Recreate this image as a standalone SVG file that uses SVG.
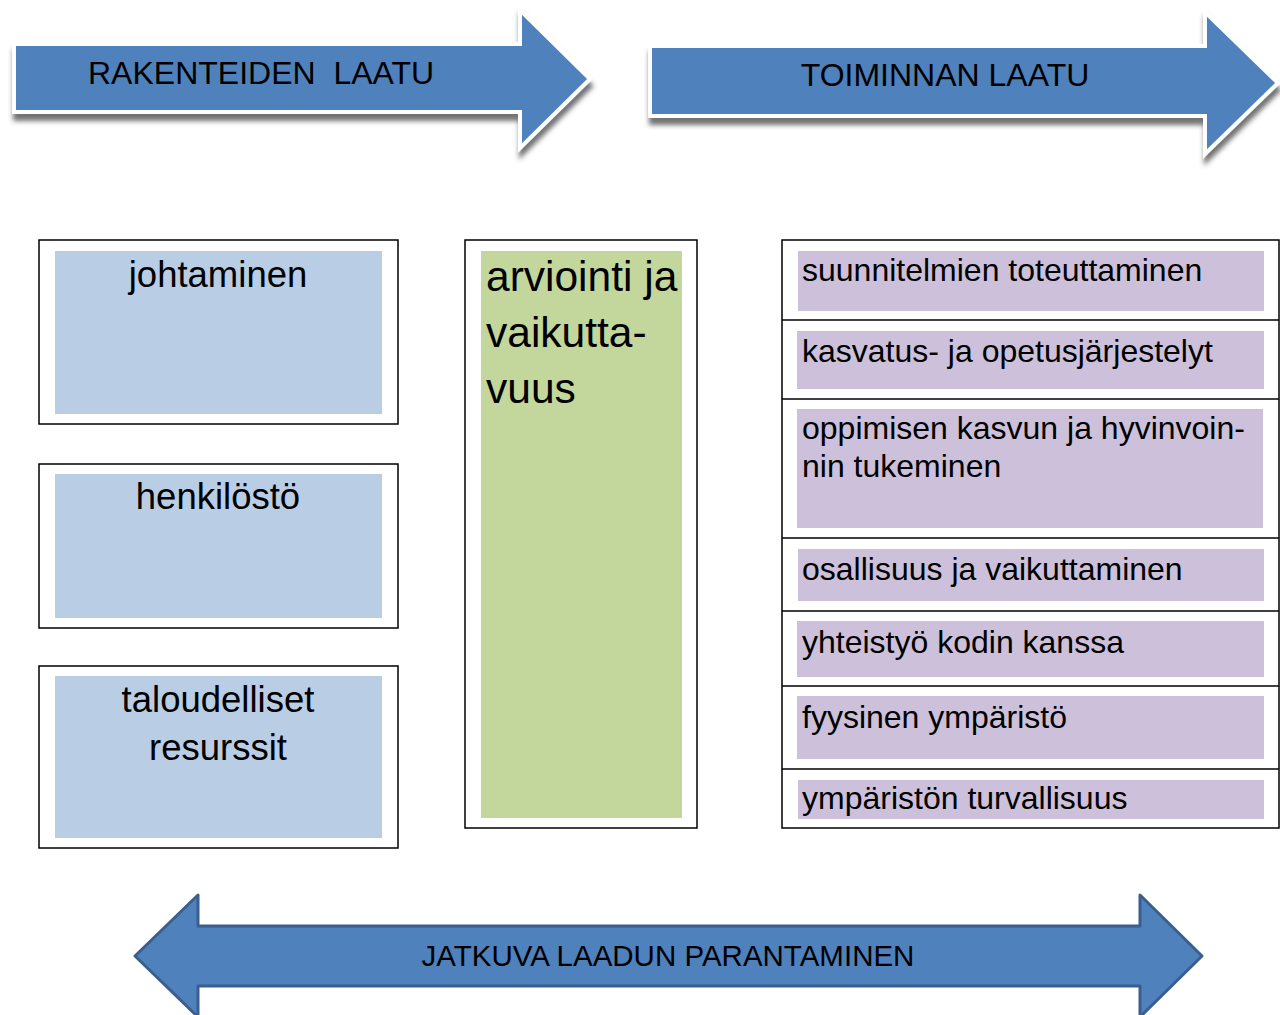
<svg xmlns="http://www.w3.org/2000/svg" width="1280" height="1015" viewBox="0 0 1280 1015">
<style>
.t{font-family:"Liberation Sans",Arial,sans-serif;fill:#000}
.outer{fill:#fff;stroke:#000;stroke-width:1.5}
.blue{fill:#b9cde5}
.green{fill:#c3d69b}
.purple{fill:#ccc0da}
.arr{fill:#4f81bd;stroke:#fff;stroke-width:4;stroke-linejoin:miter}
.div{stroke:#000;stroke-width:1.5}
</style>
<defs>
<filter id="sh" x="-5%" y="-10%" width="115%" height="140%">
<feDropShadow dx="1" dy="7" stdDeviation="2.5" flood-color="#444" flood-opacity="0.75"/>
</filter>
</defs>
<rect width="1280" height="1015" fill="#fff"/>
<g id="connectors">
<g id="arrow-rakenteet" filter="url(#sh)">
<path class="arr" d="M14,44 L520,44 L520,10 L590,79 L520,148 L520,112 L14,112 Z"/>
</g>
<text class="t" x="88" y="84" font-size="32" style="white-space:pre">RAKENTEIDEN  LAATU</text>
<g id="arrow-toiminta" filter="url(#sh)">
<path class="arr" d="M650,46 L1205,46 L1205,12 L1278,83 L1205,154 L1205,116 L650,116 Z"/>
</g>
<text class="t" x="945" y="86" font-size="32" text-anchor="middle">TOIMINNAN LAATU</text>
<g id="arrow-jatkuva">
<path d="M135,956 L198,895 L198,926 L1140,926 L1140,895 L1202,956 L1140,1017 L1140,986 L198,986 L198,1017 Z" fill="#4f81bd" stroke="#3a5f8e" stroke-width="3" stroke-linejoin="round"/>
<text class="t" x="668" y="966" font-size="29.5" text-anchor="middle">JATKUVA LAADUN PARANTAMINEN</text>
</g>
</g>
<g id="johtaminen">
<rect class="outer" x="39" y="240" width="359" height="184"/>
<rect class="blue" x="55" y="251" width="327" height="163"/>
<text class="t" x="218" y="287" font-size="36.5" text-anchor="middle">johtaminen</text>
</g>
<g id="henkilosto">
<rect class="outer" x="39" y="464" width="359" height="164"/>
<rect class="blue" x="55" y="474" width="327" height="144"/>
<text class="t" x="218" y="509" font-size="36.5" text-anchor="middle">henkilöstö</text>
</g>
<g id="taloudelliset">
<rect class="outer" x="39" y="666" width="359" height="182"/>
<rect class="blue" x="55" y="676" width="327" height="162"/>
<text class="t" x="218" y="712" font-size="36.5" text-anchor="middle">taloudelliset</text>
<text class="t" x="218" y="760" font-size="36.5" text-anchor="middle">resurssit</text>
</g>
<g id="arviointi">
<rect class="outer" x="465" y="240" width="232" height="588"/>
<rect class="green" x="481" y="251" width="201" height="567"/>
<text class="t" x="486" y="291" font-size="42.5">arviointi ja</text>
<text class="t" x="486" y="347" font-size="42.5">vaikutta-</text>
<text class="t" x="486" y="403" font-size="42.5">vuus</text>
</g>
<g id="toiminta-taulukko">
<rect class="outer" x="782" y="240" width="497" height="588"/>
<line class="div" x1="782" y1="320" x2="1279" y2="320"/>
<line class="div" x1="782" y1="399" x2="1279" y2="399"/>
<line class="div" x1="782" y1="538" x2="1279" y2="538"/>
<line class="div" x1="782" y1="611" x2="1279" y2="611"/>
<line class="div" x1="782" y1="686" x2="1279" y2="686"/>
<line class="div" x1="782" y1="769" x2="1279" y2="769"/>
</g>
<g id="suunnitelmien">
<rect class="purple" x="798" y="251" width="466" height="60"/>
<text class="t" x="802" y="281" font-size="32">suunnitelmien toteuttaminen</text>
</g>
<g id="kasvatus">
<rect class="purple" x="797" y="331" width="467" height="58"/>
<text class="t" x="802" y="362" font-size="32">kasvatus- ja opetusjärjestelyt</text>
</g>
<g id="oppimisen">
<rect class="purple" x="797" y="409" width="466" height="119"/>
<text class="t" x="802" y="439" font-size="32">oppimisen kasvun ja hyvinvoin-</text>
<text class="t" x="802" y="477" font-size="32">nin tukeminen</text>
</g>
<g id="osallisuus">
<rect class="purple" x="798" y="549" width="466" height="52"/>
<text class="t" x="802" y="580" font-size="32">osallisuus ja vaikuttaminen</text>
</g>
<g id="yhteistyo">
<rect class="purple" x="797" y="621" width="467" height="56"/>
<text class="t" x="802" y="653" font-size="32">yhteistyö kodin kanssa</text>
</g>
<g id="fyysinen">
<rect class="purple" x="797" y="696" width="467" height="63"/>
<text class="t" x="802" y="728" font-size="32">fyysinen ympäristö</text>
</g>
<g id="turvallisuus">
<rect class="purple" x="798" y="780" width="466" height="39"/>
<text class="t" x="802" y="809" font-size="32">ympäristön turvallisuus</text>
</g>
</svg>
